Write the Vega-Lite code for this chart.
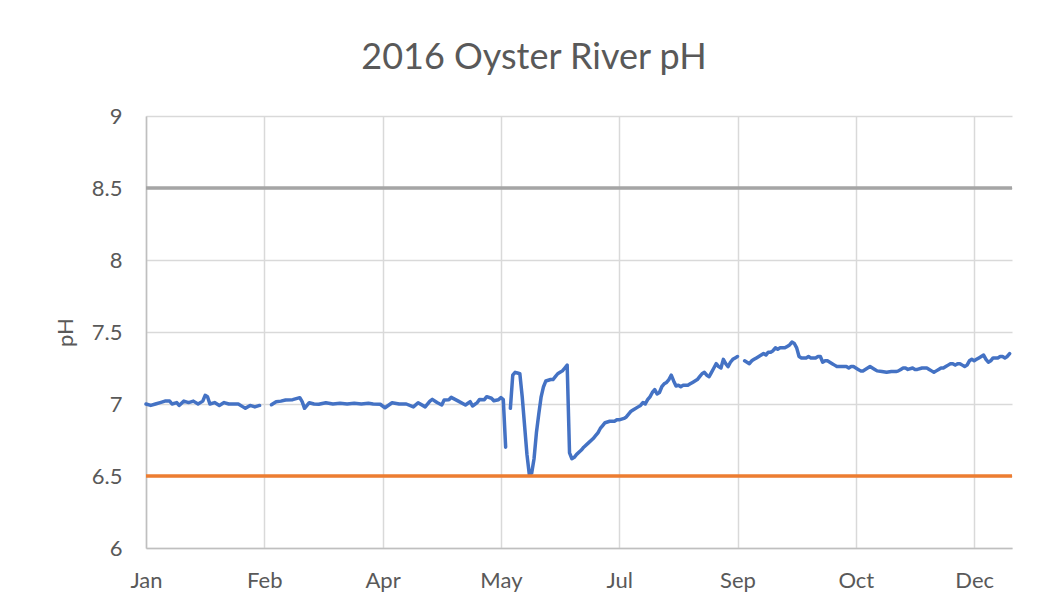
{
  "$schema": "https://vega.github.io/schema/vega-lite/v6.json",
  "width": 866,
  "height": 432,
  "autosize": {"type": "none"},
  "padding": {"left": 146, "top": 116, "right": 39, "bottom": 64},
  "background": "white",
  "title": {
    "text": "2016 Oyster River pH",
    "fontSize": 36,
    "font": "Lato",
    "fontWeight": "normal",
    "color": "#595959",
    "anchor": "middle",
    "dx": -45,
    "offset": 28
  },
  "config": {
    "view": {"stroke": null},
    "font": "Lato",
    "axis": {
      "labelFont": "Lato",
      "titleFont": "Lato",
      "labelColor": "#595959",
      "titleColor": "#595959",
      "labelFontSize": 22,
      "gridColor": "#D9D9D9",
      "gridWidth": 1.5,
      "domainColor": "#BFBFBF",
      "domainWidth": 1.5,
      "ticks": false,
      "labelFlush": false
    }
  },
  "datasets": {
    "ph": [
      {"date": "2016-01-01", "pH": 7.00, "seg": 1},
      {"date": "2016-01-03", "pH": 6.99, "seg": 1},
      {"date": "2016-01-05", "pH": 7.00, "seg": 1},
      {"date": "2016-01-07", "pH": 7.01, "seg": 1},
      {"date": "2016-01-09", "pH": 7.02, "seg": 1},
      {"date": "2016-01-11", "pH": 7.02, "seg": 1},
      {"date": "2016-01-12", "pH": 7.00, "seg": 1},
      {"date": "2016-01-14", "pH": 7.01, "seg": 1},
      {"date": "2016-01-15", "pH": 6.99, "seg": 1},
      {"date": "2016-01-17", "pH": 7.02, "seg": 1},
      {"date": "2016-01-19", "pH": 7.01, "seg": 1},
      {"date": "2016-01-21", "pH": 7.02, "seg": 1},
      {"date": "2016-01-23", "pH": 7.00, "seg": 1},
      {"date": "2016-01-25", "pH": 7.02, "seg": 1},
      {"date": "2016-01-26", "pH": 7.06, "seg": 1},
      {"date": "2016-01-27", "pH": 7.05, "seg": 1},
      {"date": "2016-01-28", "pH": 7.00, "seg": 1},
      {"date": "2016-01-30", "pH": 7.01, "seg": 1},
      {"date": "2016-02-01", "pH": 6.99, "seg": 1},
      {"date": "2016-02-03", "pH": 7.01, "seg": 1},
      {"date": "2016-02-05", "pH": 7.00, "seg": 1},
      {"date": "2016-02-07", "pH": 7.00, "seg": 1},
      {"date": "2016-02-09", "pH": 7.00, "seg": 1},
      {"date": "2016-02-11", "pH": 6.98, "seg": 1},
      {"date": "2016-02-12", "pH": 6.97, "seg": 1},
      {"date": "2016-02-14", "pH": 6.99, "seg": 1},
      {"date": "2016-02-16", "pH": 6.98, "seg": 1},
      {"date": "2016-02-18", "pH": 6.99, "seg": 1},

      {"date": "2016-02-23", "pH": 6.995, "seg": 2},
      {"date": "2016-02-25", "pH": 7.016, "seg": 2},
      {"date": "2016-02-27", "pH": 7.02, "seg": 2},
      {"date": "2016-02-29", "pH": 7.028, "seg": 2},
      {"date": "2016-03-03", "pH": 7.03, "seg": 2},
      {"date": "2016-03-06", "pH": 7.044, "seg": 2},
      {"date": "2016-03-07", "pH": 7.016, "seg": 2},
      {"date": "2016-03-08", "pH": 6.97, "seg": 2},
      {"date": "2016-03-10", "pH": 7.009, "seg": 2},
      {"date": "2016-03-12", "pH": 7.0, "seg": 2},
      {"date": "2016-03-14", "pH": 6.998, "seg": 2},
      {"date": "2016-03-17", "pH": 7.009, "seg": 2},
      {"date": "2016-03-20", "pH": 7.0, "seg": 2},
      {"date": "2016-03-23", "pH": 7.005, "seg": 2},
      {"date": "2016-03-26", "pH": 7.0, "seg": 2},
      {"date": "2016-03-29", "pH": 7.005, "seg": 2},
      {"date": "2016-04-01", "pH": 7.0, "seg": 2},
      {"date": "2016-04-04", "pH": 7.005, "seg": 2},
      {"date": "2016-04-06", "pH": 7.0, "seg": 2},
      {"date": "2016-04-09", "pH": 6.998, "seg": 2},
      {"date": "2016-04-11", "pH": 6.974, "seg": 2},
      {"date": "2016-04-14", "pH": 7.009, "seg": 2},
      {"date": "2016-04-17", "pH": 7.0, "seg": 2},
      {"date": "2016-04-20", "pH": 7.0, "seg": 2},
      {"date": "2016-04-23", "pH": 6.98, "seg": 2},
      {"date": "2016-04-25", "pH": 7.009, "seg": 2},
      {"date": "2016-04-28", "pH": 6.98, "seg": 2},
      {"date": "2016-04-30", "pH": 7.02, "seg": 2},
      {"date": "2016-05-01", "pH": 7.032, "seg": 2},
      {"date": "2016-05-03", "pH": 7.01, "seg": 2},
      {"date": "2016-05-05", "pH": 6.993, "seg": 2},
      {"date": "2016-05-06", "pH": 7.028, "seg": 2},
      {"date": "2016-05-08", "pH": 7.03, "seg": 2},
      {"date": "2016-05-09", "pH": 7.046, "seg": 2},
      {"date": "2016-05-12", "pH": 7.02, "seg": 2},
      {"date": "2016-05-15", "pH": 6.993, "seg": 2},
      {"date": "2016-05-17", "pH": 7.016, "seg": 2},
      {"date": "2016-05-18", "pH": 6.986, "seg": 2},
      {"date": "2016-05-20", "pH": 7.01, "seg": 2},
      {"date": "2016-05-21", "pH": 7.032, "seg": 2},
      {"date": "2016-05-23", "pH": 7.03, "seg": 2},
      {"date": "2016-05-24", "pH": 7.051, "seg": 2},
      {"date": "2016-05-26", "pH": 7.04, "seg": 2},
      {"date": "2016-05-27", "pH": 7.023, "seg": 2},
      {"date": "2016-05-29", "pH": 7.03, "seg": 2},
      {"date": "2016-05-30", "pH": 7.044, "seg": 2},
      {"date": "2016-05-31", "pH": 7.03, "seg": 2},
      {"date": "2016-06-01", "pH": 6.70, "seg": 2},

      {"date": "2016-06-03", "pH": 6.97, "seg": 3},
      {"date": "2016-06-04", "pH": 7.20, "seg": 3},
      {"date": "2016-06-05", "pH": 7.22, "seg": 3},
      {"date": "2016-06-06", "pH": 7.215, "seg": 3},
      {"date": "2016-06-07", "pH": 7.21, "seg": 3},
      {"date": "2016-06-08", "pH": 7.05, "seg": 3},
      {"date": "2016-06-10", "pH": 6.65, "seg": 3},
      {"date": "2016-06-11", "pH": 6.51, "seg": 3},
      {"date": "2016-06-12", "pH": 6.52, "seg": 3},
      {"date": "2016-06-13", "pH": 6.62, "seg": 3},
      {"date": "2016-06-14", "pH": 6.80, "seg": 3},
      {"date": "2016-06-15", "pH": 6.93, "seg": 3},
      {"date": "2016-06-16", "pH": 7.05, "seg": 3},
      {"date": "2016-06-17", "pH": 7.12, "seg": 3},
      {"date": "2016-06-18", "pH": 7.16, "seg": 3},
      {"date": "2016-06-20", "pH": 7.17, "seg": 3},
      {"date": "2016-06-21", "pH": 7.17, "seg": 3},
      {"date": "2016-06-22", "pH": 7.19, "seg": 3},
      {"date": "2016-06-23", "pH": 7.21, "seg": 3},
      {"date": "2016-06-24", "pH": 7.22, "seg": 3},
      {"date": "2016-06-25", "pH": 7.23, "seg": 3},
      {"date": "2016-06-26", "pH": 7.25, "seg": 3},
      {"date": "2016-06-27", "pH": 7.27, "seg": 3},
      {"date": "2016-06-28", "pH": 6.66, "seg": 3},
      {"date": "2016-06-29", "pH": 6.62, "seg": 3},
      {"date": "2016-06-30", "pH": 6.63, "seg": 3},
      {"date": "2016-07-01", "pH": 6.65, "seg": 3},
      {"date": "2016-07-03", "pH": 6.68, "seg": 3},
      {"date": "2016-07-04", "pH": 6.70, "seg": 3},
      {"date": "2016-07-06", "pH": 6.73, "seg": 3},
      {"date": "2016-07-08", "pH": 6.76, "seg": 3},
      {"date": "2016-07-09", "pH": 6.78, "seg": 3},
      {"date": "2016-07-10", "pH": 6.80, "seg": 3},
      {"date": "2016-07-11", "pH": 6.83, "seg": 3},
      {"date": "2016-07-12", "pH": 6.85, "seg": 3},
      {"date": "2016-07-13", "pH": 6.87, "seg": 3},
      {"date": "2016-07-15", "pH": 6.88, "seg": 3},
      {"date": "2016-07-17", "pH": 6.88, "seg": 3},
      {"date": "2016-07-18", "pH": 6.89, "seg": 3},
      {"date": "2016-07-19", "pH": 6.89, "seg": 3},
      {"date": "2016-07-21", "pH": 6.90, "seg": 3},
      {"date": "2016-07-22", "pH": 6.91, "seg": 3},
      {"date": "2016-07-24", "pH": 6.95, "seg": 3},
      {"date": "2016-07-25", "pH": 6.96, "seg": 3},
      {"date": "2016-07-27", "pH": 6.98, "seg": 3},
      {"date": "2016-07-28", "pH": 6.99, "seg": 3},
      {"date": "2016-07-29", "pH": 7.01, "seg": 3},
      {"date": "2016-07-30", "pH": 7.00, "seg": 3},
      {"date": "2016-07-31", "pH": 7.03, "seg": 3},
      {"date": "2016-08-01", "pH": 7.05, "seg": 3},
      {"date": "2016-08-02", "pH": 7.08, "seg": 3},
      {"date": "2016-08-03", "pH": 7.10, "seg": 3},
      {"date": "2016-08-04", "pH": 7.07, "seg": 3},
      {"date": "2016-08-05", "pH": 7.08, "seg": 3},
      {"date": "2016-08-06", "pH": 7.12, "seg": 3},
      {"date": "2016-08-07", "pH": 7.14, "seg": 3},
      {"date": "2016-08-08", "pH": 7.15, "seg": 3},
      {"date": "2016-08-09", "pH": 7.17, "seg": 3},
      {"date": "2016-08-10", "pH": 7.20, "seg": 3},
      {"date": "2016-08-11", "pH": 7.16, "seg": 3},
      {"date": "2016-08-12", "pH": 7.125, "seg": 3},
      {"date": "2016-08-13", "pH": 7.13, "seg": 3},
      {"date": "2016-08-14", "pH": 7.12, "seg": 3},
      {"date": "2016-08-15", "pH": 7.13, "seg": 3},
      {"date": "2016-08-16", "pH": 7.13, "seg": 3},
      {"date": "2016-08-17", "pH": 7.13, "seg": 3},
      {"date": "2016-08-18", "pH": 7.14, "seg": 3},
      {"date": "2016-08-19", "pH": 7.15, "seg": 3},
      {"date": "2016-08-20", "pH": 7.16, "seg": 3},
      {"date": "2016-08-21", "pH": 7.17, "seg": 3},
      {"date": "2016-08-22", "pH": 7.19, "seg": 3},
      {"date": "2016-08-23", "pH": 7.21, "seg": 3},
      {"date": "2016-08-24", "pH": 7.22, "seg": 3},
      {"date": "2016-08-25", "pH": 7.20, "seg": 3},
      {"date": "2016-08-26", "pH": 7.19, "seg": 3},
      {"date": "2016-08-27", "pH": 7.22, "seg": 3},
      {"date": "2016-08-28", "pH": 7.25, "seg": 3},
      {"date": "2016-08-29", "pH": 7.28, "seg": 3},
      {"date": "2016-08-30", "pH": 7.26, "seg": 3},
      {"date": "2016-08-31", "pH": 7.25, "seg": 3},
      {"date": "2016-09-01", "pH": 7.31, "seg": 3},
      {"date": "2016-09-02", "pH": 7.28, "seg": 3},
      {"date": "2016-09-03", "pH": 7.26, "seg": 3},
      {"date": "2016-09-04", "pH": 7.29, "seg": 3},
      {"date": "2016-09-05", "pH": 7.31, "seg": 3},
      {"date": "2016-09-06", "pH": 7.32, "seg": 3},
      {"date": "2016-09-07", "pH": 7.33, "seg": 3},

      {"date": "2016-09-10", "pH": 7.30, "seg": 4},
      {"date": "2016-09-11", "pH": 7.29, "seg": 4},
      {"date": "2016-09-12", "pH": 7.28, "seg": 4},
      {"date": "2016-09-13", "pH": 7.30, "seg": 4},
      {"date": "2016-09-14", "pH": 7.31, "seg": 4},
      {"date": "2016-09-15", "pH": 7.32, "seg": 4},
      {"date": "2016-09-16", "pH": 7.33, "seg": 4},
      {"date": "2016-09-17", "pH": 7.34, "seg": 4},
      {"date": "2016-09-18", "pH": 7.35, "seg": 4},
      {"date": "2016-09-19", "pH": 7.34, "seg": 4},
      {"date": "2016-09-20", "pH": 7.36, "seg": 4},
      {"date": "2016-09-21", "pH": 7.36, "seg": 4},
      {"date": "2016-09-22", "pH": 7.37, "seg": 4},
      {"date": "2016-09-23", "pH": 7.39, "seg": 4},
      {"date": "2016-09-24", "pH": 7.38, "seg": 4},
      {"date": "2016-09-25", "pH": 7.39, "seg": 4},
      {"date": "2016-09-26", "pH": 7.39, "seg": 4},
      {"date": "2016-09-27", "pH": 7.39, "seg": 4},
      {"date": "2016-09-28", "pH": 7.40, "seg": 4},
      {"date": "2016-09-29", "pH": 7.41, "seg": 4},
      {"date": "2016-09-30", "pH": 7.43, "seg": 4},
      {"date": "2016-10-01", "pH": 7.42, "seg": 4},
      {"date": "2016-10-02", "pH": 7.39, "seg": 4},
      {"date": "2016-10-03", "pH": 7.33, "seg": 4},
      {"date": "2016-10-04", "pH": 7.32, "seg": 4},
      {"date": "2016-10-06", "pH": 7.32, "seg": 4},
      {"date": "2016-10-07", "pH": 7.33, "seg": 4},
      {"date": "2016-10-08", "pH": 7.32, "seg": 4},
      {"date": "2016-10-10", "pH": 7.32, "seg": 4},
      {"date": "2016-10-11", "pH": 7.33, "seg": 4},
      {"date": "2016-10-12", "pH": 7.33, "seg": 4},
      {"date": "2016-10-13", "pH": 7.29, "seg": 4},
      {"date": "2016-10-14", "pH": 7.30, "seg": 4},
      {"date": "2016-10-15", "pH": 7.30, "seg": 4},
      {"date": "2016-10-16", "pH": 7.29, "seg": 4},
      {"date": "2016-10-17", "pH": 7.28, "seg": 4},
      {"date": "2016-10-18", "pH": 7.27, "seg": 4},
      {"date": "2016-10-19", "pH": 7.26, "seg": 4},
      {"date": "2016-10-21", "pH": 7.26, "seg": 4},
      {"date": "2016-10-23", "pH": 7.26, "seg": 4},
      {"date": "2016-10-24", "pH": 7.25, "seg": 4},
      {"date": "2016-10-25", "pH": 7.26, "seg": 4},
      {"date": "2016-10-26", "pH": 7.26, "seg": 4},
      {"date": "2016-10-27", "pH": 7.25, "seg": 4},
      {"date": "2016-10-28", "pH": 7.24, "seg": 4},
      {"date": "2016-10-29", "pH": 7.23, "seg": 4},
      {"date": "2016-10-30", "pH": 7.23, "seg": 4},
      {"date": "2016-10-31", "pH": 7.24, "seg": 4},
      {"date": "2016-11-01", "pH": 7.25, "seg": 4},
      {"date": "2016-11-02", "pH": 7.26, "seg": 4},
      {"date": "2016-11-03", "pH": 7.25, "seg": 4},
      {"date": "2016-11-04", "pH": 7.24, "seg": 4},
      {"date": "2016-11-05", "pH": 7.23, "seg": 4},
      {"date": "2016-11-07", "pH": 7.225, "seg": 4},
      {"date": "2016-11-09", "pH": 7.22, "seg": 4},
      {"date": "2016-11-11", "pH": 7.225, "seg": 4},
      {"date": "2016-11-13", "pH": 7.225, "seg": 4},
      {"date": "2016-11-14", "pH": 7.23, "seg": 4},
      {"date": "2016-11-15", "pH": 7.24, "seg": 4},
      {"date": "2016-11-16", "pH": 7.25, "seg": 4},
      {"date": "2016-11-17", "pH": 7.25, "seg": 4},
      {"date": "2016-11-18", "pH": 7.24, "seg": 4},
      {"date": "2016-11-20", "pH": 7.25, "seg": 4},
      {"date": "2016-11-21", "pH": 7.24, "seg": 4},
      {"date": "2016-11-22", "pH": 7.24, "seg": 4},
      {"date": "2016-11-24", "pH": 7.25, "seg": 4},
      {"date": "2016-11-26", "pH": 7.25, "seg": 4},
      {"date": "2016-11-27", "pH": 7.24, "seg": 4},
      {"date": "2016-11-28", "pH": 7.23, "seg": 4},
      {"date": "2016-11-29", "pH": 7.22, "seg": 4},
      {"date": "2016-11-30", "pH": 7.23, "seg": 4},
      {"date": "2016-12-01", "pH": 7.24, "seg": 4},
      {"date": "2016-12-02", "pH": 7.25, "seg": 4},
      {"date": "2016-12-03", "pH": 7.25, "seg": 4},
      {"date": "2016-12-04", "pH": 7.26, "seg": 4},
      {"date": "2016-12-05", "pH": 7.27, "seg": 4},
      {"date": "2016-12-06", "pH": 7.28, "seg": 4},
      {"date": "2016-12-07", "pH": 7.28, "seg": 4},
      {"date": "2016-12-08", "pH": 7.27, "seg": 4},
      {"date": "2016-12-09", "pH": 7.28, "seg": 4},
      {"date": "2016-12-10", "pH": 7.28, "seg": 4},
      {"date": "2016-12-11", "pH": 7.27, "seg": 4},
      {"date": "2016-12-12", "pH": 7.26, "seg": 4},
      {"date": "2016-12-13", "pH": 7.27, "seg": 4},
      {"date": "2016-12-14", "pH": 7.30, "seg": 4},
      {"date": "2016-12-15", "pH": 7.31, "seg": 4},
      {"date": "2016-12-16", "pH": 7.30, "seg": 4},
      {"date": "2016-12-17", "pH": 7.31, "seg": 4},
      {"date": "2016-12-18", "pH": 7.32, "seg": 4},
      {"date": "2016-12-19", "pH": 7.33, "seg": 4},
      {"date": "2016-12-20", "pH": 7.34, "seg": 4},
      {"date": "2016-12-21", "pH": 7.31, "seg": 4},
      {"date": "2016-12-22", "pH": 7.29, "seg": 4},
      {"date": "2016-12-23", "pH": 7.30, "seg": 4},
      {"date": "2016-12-24", "pH": 7.32, "seg": 4},
      {"date": "2016-12-25", "pH": 7.32, "seg": 4},
      {"date": "2016-12-26", "pH": 7.32, "seg": 4},
      {"date": "2016-12-27", "pH": 7.33, "seg": 4},
      {"date": "2016-12-28", "pH": 7.33, "seg": 4},
      {"date": "2016-12-29", "pH": 7.32, "seg": 4},
      {"date": "2016-12-30", "pH": 7.33, "seg": 4},
      {"date": "2016-12-31", "pH": 7.35, "seg": 4}
    ],
    "limits": [
      {"limit": 8.5, "kind": "upper"},
      {"limit": 6.5, "kind": "lower"}
    ]
  },
  "layer": [
    {
      "data": {"name": "ph"},
      "mark": {"type": "line", "color": "#4472C4", "strokeWidth": 3.5, "strokeJoin": "round", "strokeCap": "round"},
      "encoding": {
        "x": {
          "field": "date",
          "type": "temporal",
          "scale": {
            "type": "utc",
            "domain": [
              {"year": 2016, "month": 1, "date": 1, "utc": true},
              {"year": 2017, "month": 1, "date": 1, "utc": true}
            ]
          },
          "axis": {
            "title": null,
            "labelExpr": "utcFormat(datum.value, '%b')",
            "labelPadding": 22,
            "labelFlush": false,
            "values": [
              {"year": 2016, "month": 1, "date": 1, "utc": true},
              {"year": 2016, "month": 2, "date": 20, "utc": true},
              {"year": 2016, "month": 4, "date": 10, "utc": true},
              {"year": 2016, "month": 5, "date": 30, "utc": true},
              {"year": 2016, "month": 7, "date": 19, "utc": true},
              {"year": 2016, "month": 9, "date": 7, "utc": true},
              {"year": 2016, "month": 10, "date": 27, "utc": true},
              {"year": 2016, "month": 12, "date": 16, "utc": true}
            ]
          }
        },
        "y": {
          "field": "pH",
          "type": "quantitative",
          "scale": {"domain": [6, 9], "nice": false, "zero": false},
          "axis": {
            "title": "pH",
            "titleFontSize": 22,
            "titleFontWeight": "normal",
            "titlePadding": 14,
            "labelPadding": 24,
            "format": "~g",
            "values": [6, 6.5, 7, 7.5, 8, 8.5, 9]
          }
        },
        "detail": {"field": "seg", "type": "nominal"}
      }
    },
    {
      "data": {"name": "limits"},
      "mark": {"type": "rule", "strokeWidth": 3.5},
      "encoding": {
        "y": {"field": "limit", "type": "quantitative"},
        "color": {
          "field": "kind",
          "type": "nominal",
          "scale": {"domain": ["upper", "lower"], "range": ["#A5A5A5", "#ED7D31"]},
          "legend": null
        }
      }
    }
  ]
}
